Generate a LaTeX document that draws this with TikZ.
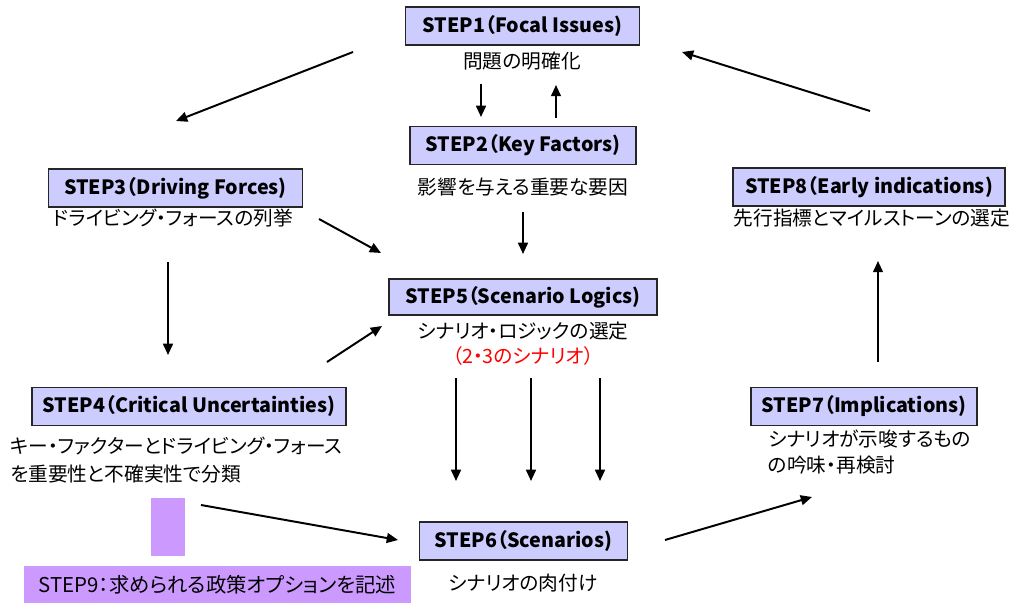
\documentclass[tikz,border=0pt]{standalone}
\usepackage{fontspec}
\setmainfont{Noto Sans CJK JP}[RawFeature=+palt]
\usepackage{xcolor}
\usepackage{tikz}
\usetikzlibrary{positioning,arrows.meta}

\definecolor{boxblue}{HTML}{CCCCFF}
\definecolor{lilac}{HTML}{CC99FF}
\tikzset{
	stepbox/.style={draw=black!85, fill=boxblue, line width=0.8pt, minimum height=0.95cm, inner sep=0pt, font=\fontsize{14}{15}\selectfont\bfseries},
	note/.style={inner sep=0pt, font=\fontsize{14}{19.5}\selectfont},
	arr/.style={-{Triangle[length=8pt,width=7pt]}, line width=1.4pt},
}

\begin{document}
\begin{tikzpicture}[x=0.025cm, y=-0.025cm]
					\useasboundingbox (0,0) rectangle (1022,603);

					\node[stepbox, minimum width=5.83cm] (s1) at (522.5, 26) {STEP1（Focal Issues)};
					\node[stepbox, minimum width=5.65cm] (s2) at (523, 145.5) {STEP2（Key Factors)};
					\node[stepbox, minimum width=6.33cm] (s3) at (175.5, 188) {STEP3（Driving Forces)};
					\node[stepbox, minimum width=7.85cm] (s4) at (189, 406.5) {STEP4（Critical Uncertainties)};
					\node[stepbox, minimum width=6.7cm, minimum height=0.9cm] (s5) at (523, 297) {STEP5（Scenario Logics)};
					\node[stepbox, minimum width=5.18cm] (s6) at (523.5, 541) {STEP6（Scenarios)};
					\node[stepbox, minimum width=5.65cm] (s7) at (864, 406.5) {STEP7（Implications)};
					\node[stepbox, minimum width=6.8cm] (s8) at (869, 187) {STEP8（Early indications)};
					\node[fill=lilac, minimum width=0.85cm, minimum height=1.45cm, inner sep=0pt] (bar) at (168, 527) {};
					\node[note, fill=lilac, minimum width=9.68cm, minimum height=0.95cm, font=\fontsize{14.5}{16}\selectfont] (s9) at (217.5, 585) {STEP9：求められる政策オプションを記述};

					\node[note] (t1) at (522, 61) {問題の明確化};
					\node[note] (t2) at (523, 187) {影響を与える重要な要因};
					\node[note] (t3) at (173, 218) {ドライビング・フォースの列挙};
					\node[note, anchor=west, align=left] (t4) at (10, 460) {キー・ファクターとドライビング・フォース\\を重要性と不確実性で分類};
					\node[note] (t5) at (523, 331) {シナリオ・ロジックの選定};
					\node[note, text=red] (t5r) at (523, 356) {（2・3のシナリオ）};
					\node[note] (t6) at (523, 583) {シナリオの肉付け};
					\node[note, anchor=west, align=left, font=\fontsize{14}{18.5}\selectfont] (t7) at (768, 452) {シナリオが示唆するもの\\の吟味・再検討};
					\node[note] (t8) at (872, 218) {先行指標とマイルストーンの選定};

					\coordinate (d1a) at (481, 84);   \coordinate (d1b) at (481, 117);
					\coordinate (u2a) at (556, 118);  \coordinate (u2b) at (556, 85);
					\coordinate (d2a) at (523, 212);  \coordinate (d2b) at (523, 254);
					\coordinate (c13a) at (353, 52);  \coordinate (c13b) at (176, 121);
					\coordinate (c35a) at (319, 219); \coordinate (c35b) at (381, 253);
					\coordinate (d3a) at (168, 262);  \coordinate (d3b) at (168, 355);
					\coordinate (c45a) at (327, 362); \coordinate (c45b) at (382, 326);
					\coordinate (va) at (456, 378);   \coordinate (vb) at (456, 481);
					\coordinate (wa) at (531, 378);   \coordinate (wb) at (531, 481);
					\coordinate (xa) at (600, 378);   \coordinate (xb) at (600, 481);
					\coordinate (c46a) at (201, 505); \coordinate (c46b) at (398, 540);
					\coordinate (c67a) at (665, 540); \coordinate (c67b) at (812, 497);
					\coordinate (d7a) at (878, 362);  \coordinate (d7b) at (878, 261);
					\coordinate (c81a) at (870, 111); \coordinate (c81b) at (682, 52);

					\draw[arr] (d1a) -- (d1b);
					\draw[arr] (u2a) -- (u2b);
					\draw[arr] (d2a) -- (d2b);
					\draw[arr] (c13a) -- (c13b);
					\draw[arr] (c35a) -- (c35b);
					\draw[arr] (d3a) -- (d3b);
					\draw[arr] (c45a) -- (c45b);
					\draw[arr] (va) -- (vb);
					\draw[arr] (wa) -- (wb);
					\draw[arr] (xa) -- (xb);
					\draw[arr] (c46a) -- (c46b);
					\draw[arr] (c67a) -- (c67b);
					\draw[arr] (d7a) -- (d7b);
					\draw[arr] (c81a) -- (c81b);
				\end{tikzpicture}
\end{document}
